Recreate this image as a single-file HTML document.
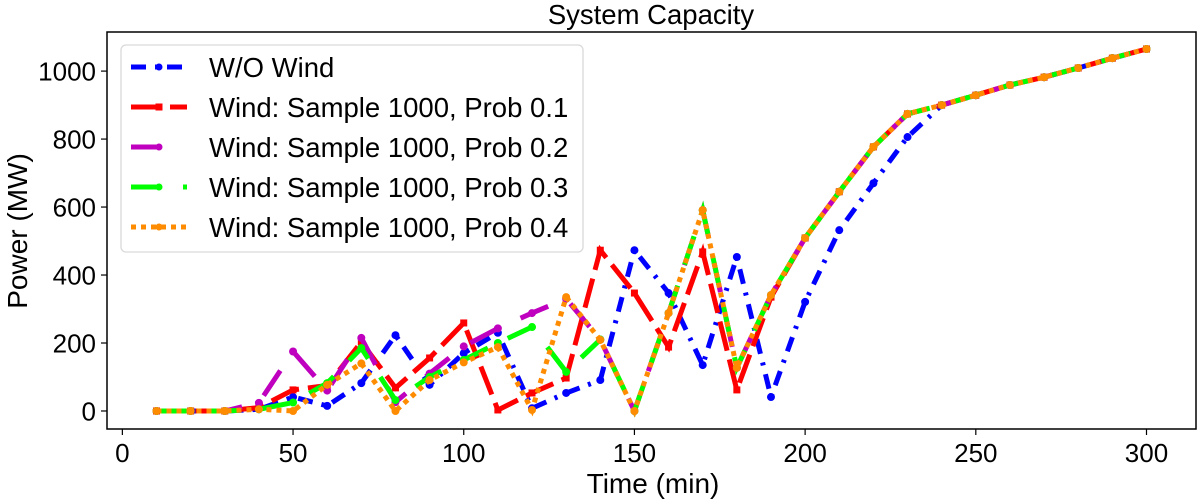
<!DOCTYPE html>
<html><head><meta charset="utf-8">
<style>
body{margin:0;background:#fff;}
svg{display:block;font-family:"Liberation Sans",Arial,sans-serif;}
</style></head>
<body>
<svg id="chart" width="1200" height="500">
<rect x="0" y="0" width="1200" height="500" fill="#fff"/>
<text x="651" y="24" font-size="27.5" text-anchor="middle">System Capacity</text>
<g id="plot"></g>
<g id="axes"></g>
<text x="653" y="493" font-size="28" text-anchor="middle">Time (min)</text>
<text transform="translate(27,231) rotate(-90)" font-size="28" text-anchor="middle">Power (MW)</text>
<g id="legend"></g>
</svg>
<script>
const times = [10,20,30,40,50,60,70,80,90,100,110,120,130,140,150,160,170,180,190,200,210,220,230,240,250,260,270,280,290,300];
const woWind = [0,0,0,5,41,15,82,223,77,170,230,8,53,91,473,347,135,453,41,321,532,670,806,900,929,959,982,1009,1038,1065];
const prob01 = [0,0,0,10,62,75,203,68,156,259,3,53,97,473,347,188,468,62,335,509,645,777,874,900,929,959,982,1009,1038,1065];
const prob02 = [0,0,0,24,175,60,215,26,110,190,243,288,330,210,0,288,591,127,341,509,645,777,874,900,929,959,982,1009,1038,1065];
const prob03 = [0,0,0,5,25,82,185,32,100,150,200,247,115,210,0,288,591,127,341,509,645,777,874,900,929,959,982,1009,1038,1065];
const prob04 = [0,0,0,5,0,77,140,0,91,143,188,3,335,209,0,288,591,127,341,509,645,777,874,900,929,959,982,1009,1038,1065];
const xTicks = [0,50,100,150,200,250,300];
const yTicks = [0,200,400,600,800,1000];
const seriesLabels = ["W/O Wind","Wind: Sample 1000, Prob 0.1","Wind: Sample 1000, Prob 0.2","Wind: Sample 1000, Prob 0.3","Wind: Sample 1000, Prob 0.4"];

const NS="http://www.w3.org/2000/svg";
const L=107,R=1196,T=32,B=429;
const xMin=-4.5,xMax=314.5,yMin=-53,yMax=1115;
const xs=t=>L+(t-xMin)/(xMax-xMin)*(R-L);
const ys=v=>B-(v-yMin)/(yMax-yMin)*(B-T);
function mk(tag,attrs,parent){const e=document.createElementNS(NS,tag);for(const k in attrs)e.setAttribute(k,attrs[k]);parent.appendChild(e);return e;}
const plot=document.getElementById('plot'),axes=document.getElementById('axes'),legend=document.getElementById('legend');

const styles=[
 {c:'#0000ff',dash:'15 9 3 9',m:'circle'},
 {c:'#ff0000',dash:'30 9',m:'square'},
 {c:'#bf00bf',dash:'30 26',m:'circle'},
 {c:'#00ff00',dash:'30 22',m:'circle'},
 {c:'#ff8c00',dash:'5 5',m:'circle'}
];
const data=[woWind,prob01,prob02,prob03,prob04];
const names=['wo-wind','prob-0-1','prob-0-2','prob-0-3','prob-0-4'];
data.forEach((vals,i)=>{
 const s=styles[i];
 const g=mk('g',{},plot);
 
 
 const pts=vals.map((v,j)=>xs(times[j]).toFixed(1)+','+ys(v).toFixed(1)).join(' ');
 const pl=mk('polyline',{points:pts,fill:'none',stroke:s.c,'stroke-width':5,'stroke-dasharray':s.dash},g);
 
 
 vals.forEach((v,j)=>{
  let m;
  if(s.m==='square') m=mk('rect',{x:xs(times[j])-3.5,y:ys(v)-3.5,width:7,height:7,fill:s.c},g);
  else m=mk('circle',{cx:xs(times[j]),cy:ys(v),r:4,fill:s.c},g);
  
  
 });
});

mk('rect',{x:L,y:T,width:R-L,height:B-T,fill:'none',stroke:'#000','stroke-width':1.5},axes);
xTicks.forEach(t=>{
 const x=xs(t);
 mk('line',{x1:x,y1:B,x2:x,y2:B+6,stroke:'#000','stroke-width':1.2},axes);
 const tx=mk('text',{x:x,y:B+33,'font-size':26,'text-anchor':'middle'},axes);
 tx.textContent=t;
 
 
});
yTicks.forEach(v=>{
 const y=ys(v);
 mk('line',{x1:L-6,y1:y,x2:L,y2:y,stroke:'#000','stroke-width':1.2},axes);
 const tx=mk('text',{x:L-11,y:y+9.5,'font-size':26,'text-anchor':'end'},axes);
 tx.textContent=v;
 
 
});

mk('rect',{x:121,y:45,width:462,height:207,rx:5,fill:'#fff','fill-opacity':0.85,stroke:'#d9d9d9','stroke-width':1.3},legend);
seriesLabels.forEach((lab,i)=>{
 const s=styles[i];
 const y=67+i*40;
 const g=mk('g',{},legend);
 
 
 mk('line',{x1:131,y1:y,x2:187,y2:y,stroke:s.c,'stroke-width':5,'stroke-dasharray':s.dash},g);
 if(s.m==='square') mk('rect',{x:155.5,y:y-3.5,width:7,height:7,fill:s.c},g);
 else mk('circle',{cx:159,cy:y,r:3.5,fill:s.c},g);
 const tx=mk('text',{x:209,y:y+10,'font-size':27.5},g);
 tx.textContent=lab;
});
</script>
</body></html>
